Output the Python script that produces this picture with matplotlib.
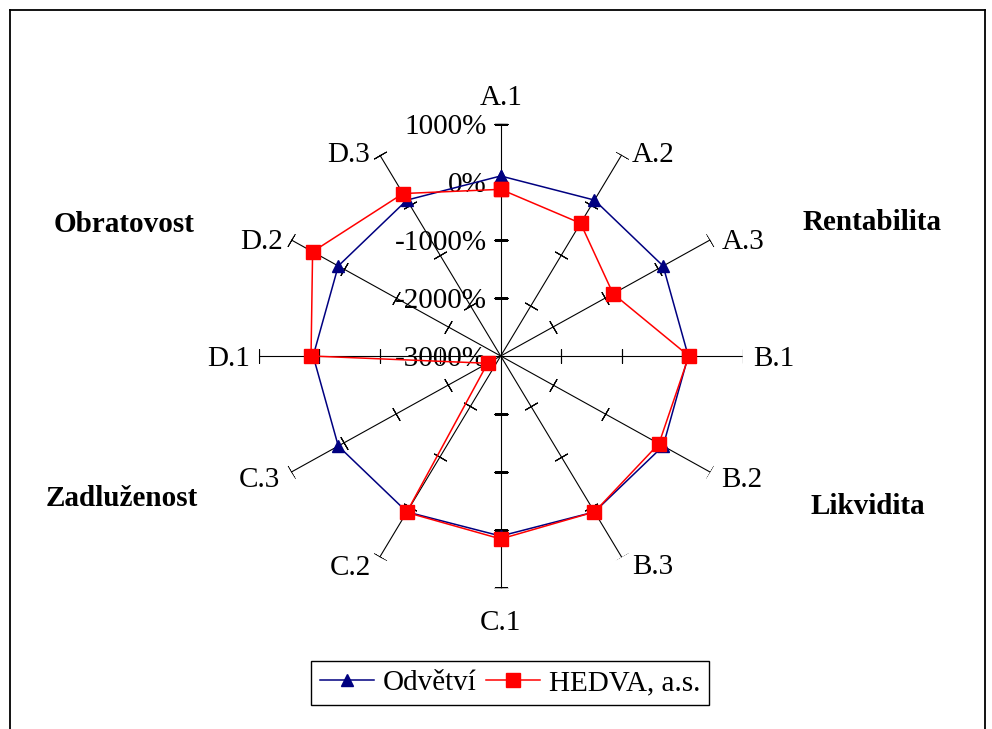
import numpy as np
import matplotlib
matplotlib.use("Agg")
import matplotlib.pyplot as plt
from matplotlib.lines import Line2D

plt.rcParams["font.family"] = ["Liberation Serif", "DejaVu Serif"]

# indicator axes, clockwise from the top
categories = ["A.1", "A.2", "A.3", "B.1", "B.2", "B.3",
              "C.1", "C.2", "C.3", "D.1", "D.2", "D.3"]
# values in percent
odvetvi = [100, 100, 100, 100, 100, 100, 100, 100, 100, 100, 100, 100]
hedva = [-130, -360, -855, 110, 20, 100, 150, 110, -2750, 135, 590, 230]

r_ticks = [-3000, -2000, -1000, 0, 1000]
r_tick_labels = ["-3000%", "-2000%", "-1000%", "0%", "1000%"]

groups = ["Rentabilita", "Likvidita", "Zadluženost", "Obratovost"]

# label offsets (pixels) for each axis name: dx, dy, ha
label_pos = [(0, 26, "center"), (10, 0, "left"), (11, -2, "left"),
             (10, -3, "left"), (11, -8, "left"), (10, -10, "left"),
             (0, -35, "center"), (-9, -11, "right"), (-11, -8, "right"),
             (-9, -3, "right"), (-8, -2, "right"), (-10, 0, "right")]

W, H = 992, 729
FS = 21

fig = plt.figure(figsize=(W / 100, H / 100), dpi=100)
fig.patch.set_facecolor("white")

# plot area: centre at (500.7, 356) px, radius 242 px across, 232 px up
cx, cy, rx, ry = 500.7, 356.0, 242.0, 232.3
ax = fig.add_axes([(cx - rx) / W, (H - cy - ry) / H, 2 * rx / W, 2 * ry / H],
                  projection="polar")
ax.set_aspect("auto")
ax.set_theta_zero_location("N")
ax.set_theta_direction(-1)
ax.set_ylim(r_ticks[0], r_ticks[-1])
ax.grid(False)
ax.spines["polar"].set_visible(False)
ax.set_xticks([])
ax.set_yticks([])
ax.patch.set_alpha(0)

n = len(categories)
theta = np.arange(n) * 2 * np.pi / n
deg = np.degrees(theta)

# spokes with perpendicular tick marks
for t, d in zip(theta, deg):
    ax.plot([t, t], [r_ticks[0], r_ticks[-1]], color="black", lw=0.8, zorder=1)
    ax.plot([t] * 4, r_ticks[1:], ls="none", marker=(2, 2, 90 - d),
            markersize=10.5, markeredgewidth=0.8, color="black", zorder=1)

# radial scale labels along the top spoke
for r, lab in zip(r_ticks, r_tick_labels):
    ax.annotate(lab, xy=(0, r), xytext=(-14, -3), textcoords="offset pixels",
                ha="right", va="center", fontsize=FS, zorder=2)

# axis names
for t, lab, (dx, dy, ha) in zip(theta, categories, label_pos):
    ax.annotate(lab, xy=(t, r_ticks[-1]), xytext=(dx, dy),
                textcoords="offset pixels", ha=ha, va="center",
                fontsize=FS, annotation_clip=False)

tc = np.append(theta, theta[0])
ax.plot(tc, odvetvi + odvetvi[:1], color="#000080", lw=1.1, marker="^",
        markersize=9, markerfacecolor="#000080", markeredgecolor="#000080",
        label="Odvětví", zorder=3, clip_on=False)
ax.plot(tc, hedva + hedva[:1], color="#ff0000", lw=1.1, marker="s",
        markersize=10, markerfacecolor="#ff0000", markeredgecolor="#ff0000",
        label="HEDVA, a.s.", zorder=4, clip_on=False)

# group headings
for txt, (x, y) in zip(groups, [(872, 223), (868, 507), (122, 498), (124, 224)]):
    fig.text(x / W, 1 - y / H, txt, ha="center", va="center",
             fontsize=FS, fontweight="bold")

fig.legend(loc="center", bbox_to_anchor=(510 / W, 1 - 683 / H), ncol=2,
           fontsize=FS, frameon=True, fancybox=False, edgecolor="black",
           framealpha=1, handlelength=1.85, handletextpad=0.3,
           columnspacing=0.35, borderpad=0.3).get_frame().set_linewidth(1.0)

# outer chart frame
for xs, ys in [([9.5, 985], [10, 10]), ([9.5, 9.5], [10, 729]),
               ([985, 985], [10, 729])]:
    fig.add_artist(Line2D([x / W for x in xs], [1 - y / H for y in ys],
                          color="black", lw=1.3))

fig.savefig("out.png", dpi=100)
